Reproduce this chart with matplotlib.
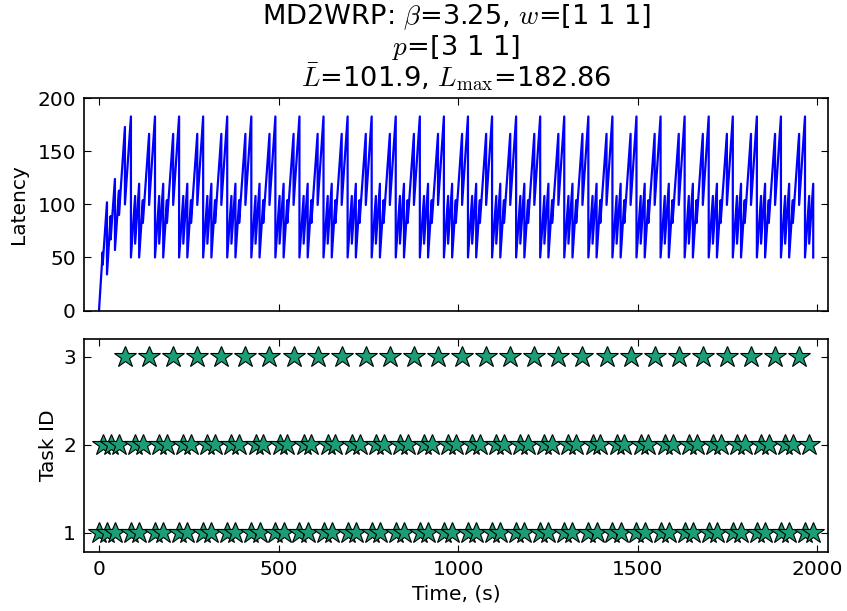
import matplotlib
matplotlib.use('Agg')
import matplotlib.pyplot as plt

plt.rcParams['font.family'] = ['DejaVu Sans']
plt.rcParams['mathtext.fontset'] = 'cm'

# ---- data ----
# start times of each repeating service cycle (task-1 visit at the latency peak)
cycle_starts = [88.9, 155.9, 223.0, 290.0, 357.0, 424.1, 491.1, 558.1, 625.1,
                692.2, 759.2, 826.2, 893.3, 960.3, 1027.3, 1094.4, 1161.4,
                1228.4, 1295.4, 1362.5, 1429.5, 1496.5, 1563.6, 1630.6,
                1697.6, 1764.7, 1831.7, 1898.7, 1965.7]
# events inside one cycle: offset (s), task served, latency before / after the visit
cycle_offsets = [0.0, 11.7, 22.9, 33.2, 50.6]
cycle_tasks = [1, 2, 1, 2, 3]
cycle_before = [182.9, 108.0, 119.5, 104.0, 166.5]
cycle_after = [50.0, 63.0, 50.0, 82.5, 99.5]

# initial transient events
init_times = [0.0, 10.2, 22.2, 32.4, 44.4, 55.6, 72.2]
init_tasks = [1, 2, 1, 2, 1, 2, 3]
init_before = [0.0, 55.0, 102.0, 89.0, 124.0, 113.0, 173.0]
init_after = [0.0, 43.0, 34.0, 67.0, 57.0, 90.0, 100.0]

end_time = 1988.6

title_lines = ["MD2WRP: $\\beta$=3.25, $w$=[1 1 1]",
               "$p$=[3 1 1]",
               "$\\bar{L}$=101.9, $L_{\\max}$=182.86"]

# ---- assemble event list ----
events = list(zip(init_times, init_tasks, init_before, init_after))
for t0 in cycle_starts:
    for off, tk, b, a in zip(cycle_offsets, cycle_tasks, cycle_before, cycle_after):
        t = round(t0 + off, 1)
        if t <= end_time:
            events.append((t, tk, b, a))

lat_t, lat_v = [], []
task_times = {1: [], 2: [], 3: []}
for t, tk, b, a in events:
    lat_t += [t, t]
    lat_v += [b, a]
    task_times[tk].append(t)

# ---- figure ----
fig = plt.figure(figsize=(8.47, 6.11), dpi=100)
ax1 = fig.add_axes([0.0995, 0.4918, 0.8786, 0.3473])
ax2 = fig.add_axes([0.0995, 0.0971, 0.8786, 0.3481])

ax1.plot(lat_t, lat_v, color='#0000ff', lw=1.6)
ax1.set_ylim(0, 200)
ax1.set_yticks([0, 50, 100, 150, 200])
ax1.set_ylabel('Latency', fontsize=14.5, labelpad=7)

xc = 0.0995 + 0.8786 / 2
for line, yb in zip(title_lines, [1 - 24.5 / 611, 1 - 55 / 611, 1 - 86.5 / 611]):
    fig.text(xc, yb, line, ha='center', va='baseline', fontsize=19.6)

for tk in (1, 2, 3):
    ax2.plot(task_times[tk], [tk] * len(task_times[tk]), linestyle='none',
             marker='*', ms=16.5, markerfacecolor='#1b9e77',
             markeredgecolor='black', markeredgewidth=0.8)
ax2.set_ylim(0.785, 3.2)
ax2.set_yticks([1, 2, 3])
ax2.set_ylabel('Task ID', fontsize=14.5)
ax2.set_xlabel('Time, (s)', fontsize=14.5)

for ax in (ax1, ax2):
    ax.set_xlim(-41, 2031)
    ax.set_xticks([0, 500, 1000, 1500, 2000])
    ax.tick_params(direction='in', top=True, right=True, length=5, width=0.8,
                   labelsize=14.5, pad=6)
    for s in ax.spines.values():
        s.set_linewidth(1.2)
ax1.tick_params(labelbottom=False)

fig.savefig('out.png', dpi=100)
